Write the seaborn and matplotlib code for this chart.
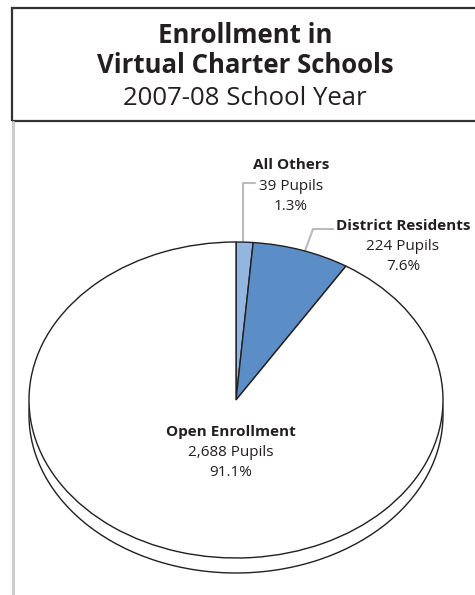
import matplotlib
matplotlib.use("Agg")
import matplotlib.pyplot as plt
from matplotlib.patches import Rectangle
from matplotlib.lines import Line2D
import seaborn as sns
import numpy as np

# ---- data ----
categories = ["All Others", "District Residents", "Open Enrollment"]
pupils = [39, 224, 2688]
pupil_labels = ["39 Pupils", "224 Pupils", "2,688 Pupils"]
pct_labels = ["1.3%", "7.6%", "91.1%"]
title_lines = ["Enrollment in", "Virtual Charter Schools"]
subtitle = "2007-08 School Year"

sns.set_theme(style="white")
plt.rcParams['font.family'] = ['Open Sans', 'DejaVu Sans']

W, H = 475, 595
fig = plt.figure(figsize=(W / 100, H / 100), dpi=100)
fig.patch.set_facecolor("white")

# pie geometry in pixels
cx, cy, rx, ry = 236, 400, 207, 158
depth = 15 / ry

ax = fig.add_axes([0, 0, 1, 1])
palette = ["#93b5de", "#5b8dc6", "#ffffff"]
edge = dict(edgecolor="#231f20", linewidth=1.0)

# 3D rim (shifted full ellipse underneath)
ax.pie([sum(pupils)], colors=["white"], center=(0, -depth),
       wedgeprops=edge, startangle=90)
ax.pie(pupils, colors=palette, startangle=90, counterclock=False,
       wedgeprops=edge)

ax.set_aspect("auto")
ax.set_xlim((0 - cx) / rx, (W - cx) / rx)
ax.set_ylim((cy - H) / ry, (cy - 0) / ry)
ax.axis("off")

def px(x, y):
    return ((x - cx) / rx, (cy - y) / ry)

txt = "#231f20"
# title box
fig.patches.append(Rectangle((12 / W, 1 - 121 / H), 1.0, (121 - 8) / H,
                             transform=fig.transFigure, fill=False,
                             edgecolor="#333333", linewidth=1.6))
fig.lines.append(Line2D([13 / W, 13 / W], [0, 1 - 122 / H], transform=fig.transFigure,
                        color="#cccccc", linewidth=2.2))
fig.text(245 / W, 1 - 43 / H, title_lines[0], ha="center", va="baseline",
         fontsize=18.5, fontweight="bold", color=txt)
fig.text(245 / W, 1 - 73 / H, title_lines[1], ha="center", va="baseline",
         fontsize=18.5, fontweight="bold", color=txt)
fig.text(245 / W, 1 - 105 / H, subtitle, ha="center", va="baseline",
         fontsize=18.5, color=txt)

# labels (x centre, baseline of first line)
lab_pos = [(291, 169), (403, 230), (231, 436)]
for i, (x, y) in enumerate(lab_pos):
    ax.text(*px(x, y), categories[i], ha="center", va="baseline", fontsize=11,
            fontweight="bold", color=txt)
    ax.text(*px(x, y + 20.5), pupil_labels[i], ha="center", va="baseline",
            fontsize=11, color=txt)
    ax.text(*px(x, y + 40.5), pct_labels[i], ha="center", va="baseline",
            fontsize=11, color=txt)

# leader lines
lc = "#bbbbbb"
x0, y0 = px(243.5, 241)
x1, y1 = px(243.5, 183)
x2, y2 = px(255, 183)
ax.plot([x0, x1, x2], [y0, y1, y2], color=lc, linewidth=1.5, zorder=0.5)
x0, y0 = px(305, 251)
x1, y1 = px(313, 229)
x2, y2 = px(333, 229)
ax.plot([x0, x1, x2], [y0, y1, y2], color=lc, linewidth=1.5, zorder=0.5)

fig.savefig("out.png", dpi=100, facecolor="white")
